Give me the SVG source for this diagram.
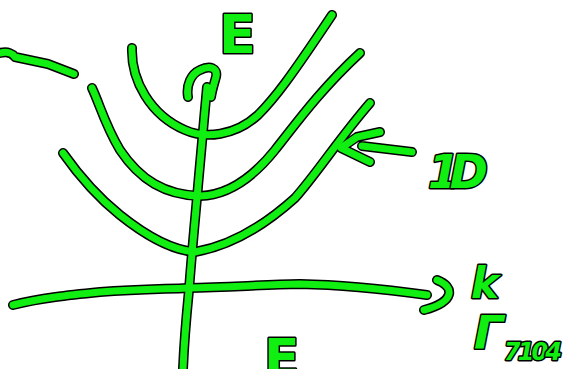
<svg xmlns="http://www.w3.org/2000/svg" width="566" height="369" viewBox="0 0 566 369">
<style>
.o{fill:none;stroke:#000;stroke-width:10;stroke-linecap:round;stroke-linejoin:round}
.i{fill:none;stroke:#11ee11;stroke-width:7;stroke-linecap:round;stroke-linejoin:round}
.t{font-family:"DejaVu Sans","Liberation Sans",sans-serif;font-weight:bold;fill:#11ee11;stroke:#000;stroke-width:3;paint-order:stroke;stroke-linejoin:round}
</style>
<defs>
<g id="strokes">
<path id="leftline" d="M0,53 C8,51 13,54 15,57 L48,64 L74,74"/>
<path id="band1" d="M132,48 C131,80 150,115 185,130 C205,139 235,136 258,115 C275,98 290,78 332,15"/>
<path id="band2" d="M92,88 C100,105 105,125 120,150 C140,180 165,195 200,196 C230,195 255,175 275,150 C295,125 320,90 360,53"/>
<path id="band3" d="M63,153 C75,170 95,195 120,215 C145,235 170,250 195,252 C230,246 265,225 295,198 C318,172 338,140 370,103"/>
<path id="arrow1d" d="M380,132 L357,137 L341,148 L370,162 M362,146 L412,152"/>
<path id="vaxis" d="M188,97 C186,85 191,74 200,70 C210,65 218,68 216,77 C214,84 212,90 211,97 M207,87 C205,110 202,140 199,175 C196,210 192,250 189,290 C186,320 184,345 183,369"/>
<path id="haxis" d="M13,305 C40,298 70,295 100,292 C140,289 170,289 187,288 C230,287 260,285 300,284 C350,285 390,290 427,295 M437,280 C455,287 455,302 424,310"/>
</g>
</defs>
<g id="connectors">
<use href="#strokes" class="o"/>
<use href="#strokes" class="i"/>
</g>
<g id="label-E-top"><text class="t" x="219" y="53" font-size="54">E</text></g>
<g id="label-1D"><text class="t" x="428" y="188" font-size="46" font-style="italic" textLength="60">1D</text></g>
<g id="label-k"><text class="t" x="471" y="298" font-size="42" font-style="italic">k</text></g>
<g id="label-Gamma"><text class="t" x="474" y="349" font-size="46" font-style="italic">Γ</text></g>
<g id="label-104"><text class="t" x="504" y="360" font-size="24" font-style="italic" textLength="58">7104</text></g>
<g id="label-E-bottom"><text class="t" x="264" y="376" font-size="52">E</text></g>
</svg>
